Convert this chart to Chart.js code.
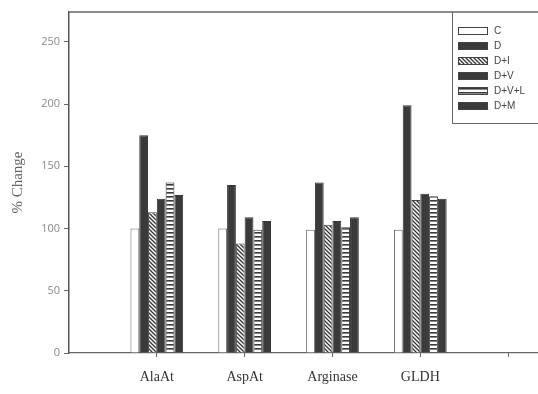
<!DOCTYPE html>
<html>
<head>
<meta charset="utf-8">
<script src="https://cdn.jsdelivr.net/npm/chart.js@4.4.1/dist/chart.umd.min.js"></script>
<style>
  html, body { margin: 0; padding: 0; background: #fff; }
  #wrap { width: 538px; height: 394px; }
</style>
</head>
<body>
<div id="wrap"><canvas id="graphe"></canvas></div>
<script>
//------------------ DONNEES -------------------------
const enzymes = ['AlaAt', 'AspAt', 'Arginase', 'GLDH'];
const positions = [1, 2, 3, 4];
const xTicks = [1, 2, 3, 4, 5];
const yTicks = [0, 50, 100, 150, 200, 250];

const serieC = [100, 100, 99, 99];
const serieD = [175, 135, 137, 199];
const serieDI = [113, 88, 103, 123];
const serieDV = [124, 109, 106, 128];
const serieDVL = [137, 99, 101, 126];
const serieDM = [127, 106, 109, 124];

//------------------ MOTIFS (hachures) ----------------
const FONCE = '#3a3a3a';

function motifDiagonal() {
    const c = document.createElement('canvas');
    c.width = 4; c.height = 4;
    const g = c.getContext('2d');
    g.fillStyle = '#fff';
    g.fillRect(0, 0, 4, 4);
    g.strokeStyle = '#333';
    g.lineWidth = 1.3;
    g.beginPath();
    g.moveTo(-1, -1); g.lineTo(5, 5);
    g.moveTo(-1, 3); g.lineTo(1, 5);
    g.moveTo(3, -1); g.lineTo(5, 1);
    g.stroke();
    return g.createPattern(c, 'repeat');
}

function motifHorizontal() {
    const c = document.createElement('canvas');
    c.width = 4; c.height = 4;
    const g = c.getContext('2d');
    g.fillStyle = '#fff';
    g.fillRect(0, 0, 4, 4);
    g.fillStyle = '#3a3a3a';
    g.fillRect(0, 0, 4, 1.6);
    return g.createPattern(c, 'repeat');
}

const hachure = motifDiagonal();
const rayure = motifHorizontal();

function points(valeurs) {
    return valeurs.map((v, i) => ({ x: positions[i], y: v }));
}

const series = [
    { label: 'C', data: serieC, fond: '#ffffff', bord: '#666' },
    { label: 'D', data: serieD, fond: FONCE, bord: '#333' },
    { label: 'D+I', data: serieDI, fond: hachure, bord: '#444' },
    { label: 'D+V', data: serieDV, fond: FONCE, bord: '#333' },
    { label: 'D+V+L', data: serieDVL, fond: rayure, bord: '#333' },
    { label: 'D+M', data: serieDM, fond: FONCE, bord: '#333' }
];

//------------------ LEGENDE + CADRE ------------------
const cadre = {
    id: 'cadre',
    afterDraw(chart) {
        const ctx = chart.ctx;
        const a = chart.chartArea;
        ctx.save();
        // trait du haut
        ctx.strokeStyle = '#666';
        ctx.lineWidth = 1.5;
        ctx.beginPath();
        ctx.moveTo(a.left, a.top);
        ctx.lineTo(chart.width, a.top);
        ctx.stroke();

        // boite de legende
        const bx = 452, by = a.top, bh = 111;
        ctx.fillStyle = '#fff';
        ctx.fillRect(bx, by + 1, chart.width - bx, bh - 1);
        ctx.strokeStyle = '#666';
        ctx.lineWidth = 1;
        ctx.beginPath();
        ctx.moveTo(bx + 0.5, by);
        ctx.lineTo(bx + 0.5, by + bh + 0.5);
        ctx.lineTo(chart.width, by + bh + 0.5);
        ctx.stroke();

        ctx.font = '10px "Liberation Sans", Arial, sans-serif';
        ctx.textBaseline = 'middle';
        chart.data.datasets.forEach((ds, i) => {
            const y = 31 + i * 15;
            ctx.fillStyle = ds.backgroundColor;
            ctx.fillRect(458, y - 4, 30, 8);
            ctx.strokeStyle = '#444';
            ctx.strokeRect(458.5, y - 3.5, 29, 7);
            ctx.fillStyle = '#444';
            ctx.fillText(ds.label, 494, y + 0.5);
        });
        ctx.restore();
    }
};

//------------------ GRAPHIQUE ------------------------
const ctx = document.getElementById('graphe').getContext('2d');

new Chart(ctx, {
    type: 'bar',
    plugins: [cadre],
    data: {
        datasets: series.map(s => ({
            label: s.label,
            data: points(s.data),
            backgroundColor: s.fond,
            borderColor: s.bord,
            borderWidth: 1,
            categoryPercentage: 0.6,
            barPercentage: 1
        }))
    },
    options: {
        responsive: true,
        maintainAspectRatio: false,
        animation: false,
        layout: { padding: { top: 12, right: 0, left: 0, bottom: 0 } },
        plugins: {
            legend: { display: false },
            tooltip: { enabled: false }
        },
        scales: {
            x: {
                type: 'linear',
                offset: false,
                min: 0,
                max: 5.34,
                afterBuildTicks: scale => { scale.ticks = xTicks.map(v => ({ value: v })); },
                afterFit: scale => { scale.height = 41; },
                grid: { offset: false, drawOnChartArea: false, drawTicks: true, tickLength: 4, color: '#666' },
                border: { color: '#666', width: 1.2 },
                ticks: {
                    padding: 12,
                    maxRotation: 0,
                    autoSkip: false,
                    color: '#333',
                    font: { family: '"Liberation Serif", "Times New Roman", serif', size: 14 },
                    callback: v => enzymes[v - 1] || ''
                }
            },
            y: {
                min: 0,
                max: 274,
                afterBuildTicks: scale => { scale.ticks = yTicks.map(v => ({ value: v })); },
                afterFit: scale => { scale.width = 69; },
                grid: { drawOnChartArea: false, drawTicks: true, tickLength: 5, color: '#666' },
                border: { color: '#555', width: 1.5 },
                ticks: {
                    padding: 4,
                    color: '#888',
                    font: { family: '"Open Sans", sans-serif', size: 11 }
                },
                title: {
                    display: true,
                    text: '% Change',
                    color: '#666',
                    padding: { top: 9, bottom: 0 },
                    font: { family: '"Liberation Serif", "Times New Roman", serif', size: 15 }
                }
            }
        }
    }
});
</script>
</body>
</html>
